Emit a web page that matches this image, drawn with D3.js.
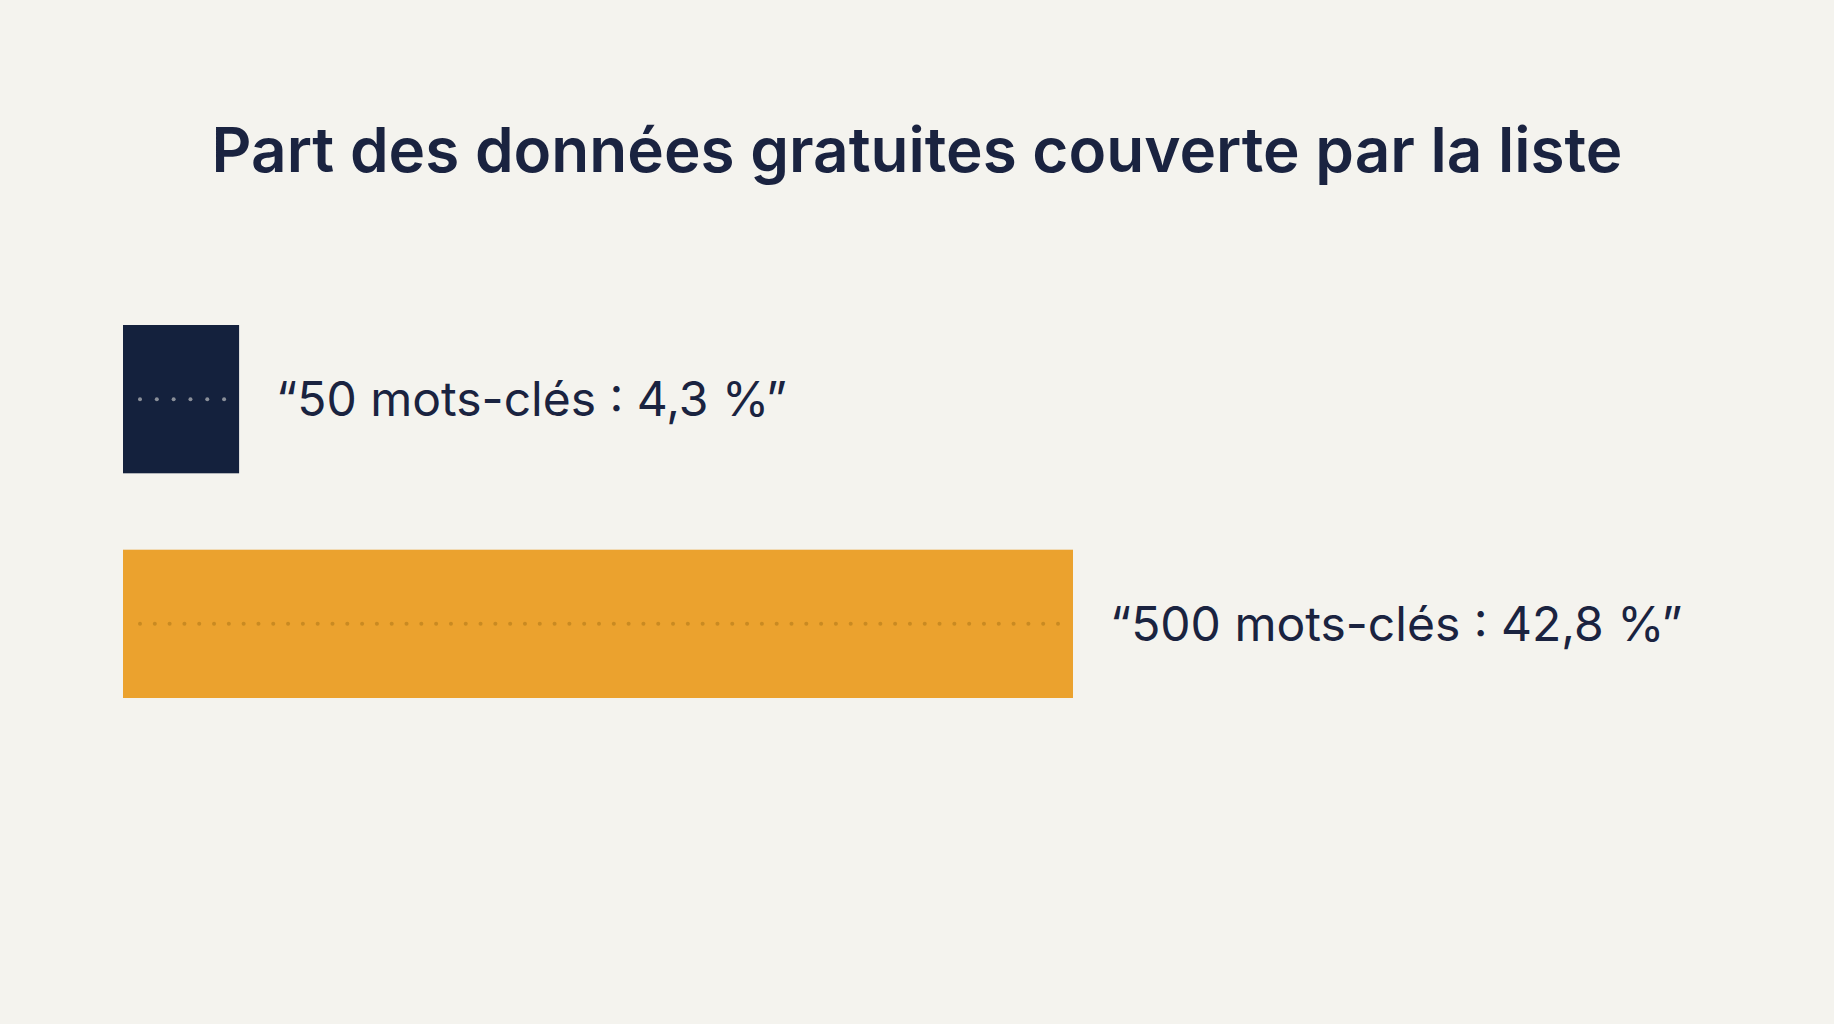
<!DOCTYPE html>
<html><head><meta charset="utf-8">
<script src="https://cdn.jsdelivr.net/npm/d3@7"></script>
<style>body{margin:0;background:#f4f3ee}svg{display:block}</style>
</head><body>
<script>
const categories = ["50 mots-clés", "500 mots-clés"];
const values = [4.3, 42.8];
const labels = ["“50 mots-clés : 4,3 %”", "“500 mots-clés : 42,8 %”"];
const colors = ["#14213d", "#eba22e"];
const dotColors = ["#8a8f99", "#c98a22"];
const title = "Part des données gratuites couverte par la liste";

const W = 1834, H = 1024;
const svg = d3.select("body").append("svg").attr("width", W).attr("height", H);
svg.append("rect").attr("width", W).attr("height", H).attr("fill", "#f4f3ee");

svg.append("text").attr("x", 917).attr("y", 172).attr("text-anchor", "middle")
  .attr("font-family", "Inter, sans-serif").attr("font-weight", 600).attr("font-size", 62)
  .attr("fill", "#1a2340").text(title);

const x = d3.scaleLinear().domain([-1.06, 42.8]).range([123, 1073]);
const y = d3.scaleBand().domain(categories).range([325, 698]).paddingInner(0.34);

const g = svg.selectAll("g.bar").data(categories).enter().append("g");
g.append("rect").attr("x", x(-1.06)).attr("y", d => y(d))
  .attr("width", (d, i) => x(values[i]) - x(-1.06)).attr("height", y.bandwidth())
  .attr("fill", (d, i) => colors[i]);
g.each(function(d, i) {
  const x0 = x(-1.06) + 17, x1 = x(values[i]) - 15;
  const n = Math.floor((x1 - x0) / 14.6);
  const cy = y(d) + y.bandwidth() / 2;
  d3.select(this).selectAll("circle").data(d3.range(n + 1)).enter().append("circle")
    .attr("cx", k => x0 + k * (x1 - x0) / n).attr("cy", cy).attr("r", 2)
    .attr("fill", dotColors[i]);
});
g.append("text").attr("x", (d, i) => x(values[i]) + 37)
  .attr("y", d => y(d) + y.bandwidth() / 2).attr("dy", "0.35em")
  .attr("font-family", "Inter, sans-serif").attr("font-size", 48)
  .attr("fill", "#1a2340").text((d, i) => labels[i]);
</script>
</body></html>
